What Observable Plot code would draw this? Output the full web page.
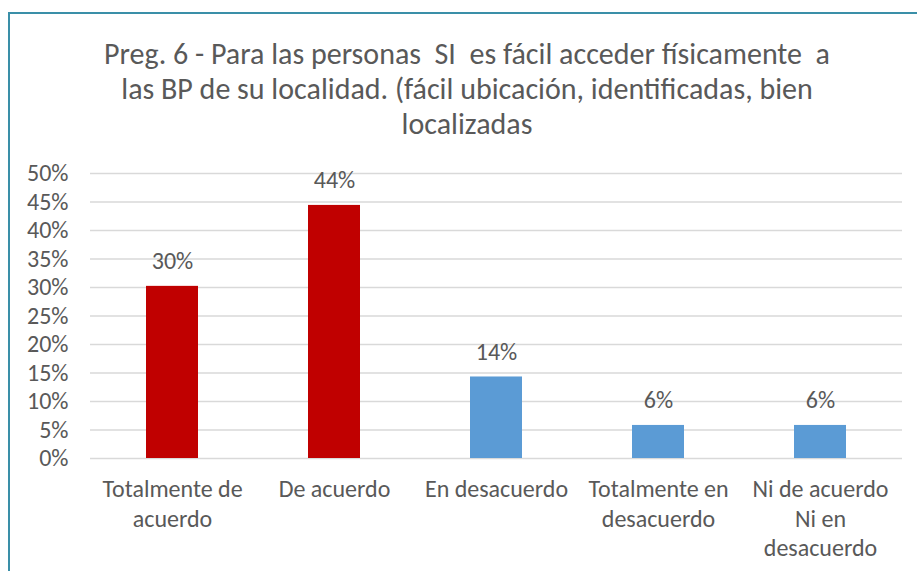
<!DOCTYPE html>
<html>
<head>
<meta charset="utf-8">
<script src="https://cdn.jsdelivr.net/npm/d3@7"></script>
<script src="https://cdn.jsdelivr.net/npm/@observablehq/plot@0.6"></script>
<style>
  html, body { margin: 0; padding: 0; background: #fff; }
  #wrap { position: relative; width: 917px; height: 571px; overflow: hidden; font-family: Carlito, Lato, "Open Sans", sans-serif; }
  #frame { position: absolute; left: 8px; top: 12px; width: 1000px; height: 1000px; border-left: 2px solid #3A8FA8; border-top: 2px solid #3A8FA8; box-sizing: border-box; }
  #title { position: absolute; left: 0; top: 36px; width: 934px; text-align: center; color: #595959; font-size: 30px; line-height: 35px; }
  #chart { position: absolute; left: 0; top: 150px; }
</style>
</head>
<body>
<div id="wrap">
  <div id="frame"></div>
  <div id="title">Preg. 6 - Para las personas&nbsp; SI&nbsp; es fácil acceder físicamente&nbsp; a<br>las BP de su localidad. (fácil ubicación, identificadas, bien<br>localizadas</div>
  <div id="chart"></div>
</div>
<script>
const categories = ["Totalmente de acuerdo", "De acuerdo", "En desacuerdo", "Totalmente en desacuerdo", "Ni de acuerdo Ni en desacuerdo"];
const tickLabels = ["Totalmente de\nacuerdo", "De acuerdo", "En desacuerdo", "Totalmente en\ndesacuerdo", "Ni de acuerdo\nNi en\ndesacuerdo"];
const values = [0.302, 0.444, 0.143, 0.058, 0.058];
const valueLabels = ["30%", "44%", "14%", "6%", "6%"];
const barColors = ["#C00000", "#C00000", "#5B9BD5", "#5B9BD5", "#5B9BD5"];
const yTicks = [0, 0.05, 0.10, 0.15, 0.20, 0.25, 0.30, 0.35, 0.40, 0.45, 0.50];

const data = categories.map((c, i) => ({cat: c, value: values[i], label: valueLabels[i], color: barColors[i], tick: tickLabels[i]}));
const tickMap = new Map(data.map(d => [d.cat, d.tick]));

const chart = Plot.plot({
  width: 917,
  height: 421,
  marginTop: 23,
  marginBottom: 113,
  marginLeft: 90,
  marginRight: 15,
  style: {fontFamily: "Carlito, Lato, 'Open Sans', sans-serif", fontSize: "24px", color: "#595959", background: "transparent"},
  x: {domain: categories, paddingInner: 0.68, paddingOuter: 0.34, align: 0.5},
  y: {domain: [0, 0.5]},
  marks: [
    Plot.gridY(yTicks, {stroke: "#D9D9D9", strokeOpacity: 1, strokeWidth: 1.5}),
    Plot.barY(data, {x: "cat", y: "value", fill: "color"}),
    Plot.text(data, {x: "cat", y: "value", text: "label", dy: -25, fill: "#595959", fontSize: 24}),
    Plot.axisY({ticks: yTicks, tickFormat: d => Math.round(d * 100) + "%", tickSize: 0, tickPadding: 22, fontSize: 24, fill: "#595959", label: null}),
    Plot.axisX({tickFormat: d => tickMap.get(d), tickSize: 0, tickPadding: 18, fontSize: 24, fill: "#595959", lineHeight: 1.22, label: null, textAnchor: "middle"})
  ]
});
document.getElementById("chart").appendChild(chart);
</script>
</body>
</html>
